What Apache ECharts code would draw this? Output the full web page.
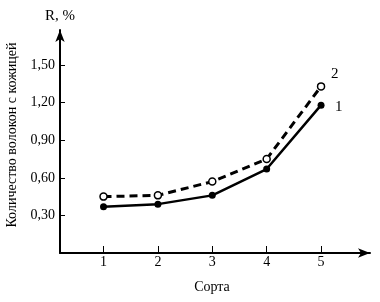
<!DOCTYPE html>
<html lang="ru">
<head>
    <meta charset="UTF-8">
    <script src="https://cdn.jsdelivr.net/npm/echarts@6/dist/echarts.min.js"></script>
    <style>
        body { margin: 0; background: #fff; }
        #chart { width: 380px; height: 302px; }
    </style>
</head>
<body>
<div id="chart"></div>
<script>
    // сорта и значения R, %
    var sorts = [1, 2, 3, 4, 5];
    var series1 = [0.37, 0.39, 0.46, 0.67, 1.18];   // кривая 1, сплошная
    var series2 = [0.45, 0.46, 0.57, 0.75, 1.33];   // кривая 2, пунктир
    var yTicks = [0.30, 0.60, 0.90, 1.20, 1.50];

    var font = 'Liberation Serif, Times New Roman, serif';

    function pairs(arr) {
        return sorts.map(function (s, i) { return [s, arr[i]]; });
    }

    var mCharts = echarts.init(document.getElementById('chart'));
    var option = {
        animation: false,
        grid: { left: 60, right: 10, top: 30, bottom: 49 },
        xAxis: {
            type: 'value',
            min: 0.2,
            max: 5.9,
            axisLine: { lineStyle: { color: '#000', width: 2 }, symbol: ['none', 'arrow'], symbolSize: [7, 12] },
            axisTick: { inside: true, length: 7, lineStyle: { color: '#000' }, customValues: sorts },
            axisLabel: { color: '#000', fontFamily: font, fontSize: 14, margin: 2, customValues: sorts },
            splitLine: { show: false }
        },
        yAxis: {
            type: 'value',
            min: 0,
            max: 1.78,
            name: 'R, %',
            nameLocation: 'end',
            nameGap: 6,
            nameTextStyle: { color: '#000', fontFamily: font, fontSize: 15 },
            axisLine: { lineStyle: { color: '#000', width: 2 }, symbol: ['none', 'arrow'], symbolSize: [7, 12] },
            axisTick: { inside: true, length: 5, lineStyle: { color: '#000' }, customValues: yTicks },
            axisLabel: {
                color: '#000', fontFamily: font, fontSize: 14, margin: 5, customValues: yTicks,
                formatter: function (v) { return v.toFixed(2).replace('.', ','); }
            },
            splitLine: { show: false }
        },
        series: [
            {
                name: '1',
                type: 'line',
                data: pairs(series1),
                symbol: 'circle',
                symbolSize: 7,
                itemStyle: { color: '#000' },
                lineStyle: { color: '#000', width: 2.5 },
                endLabel: { show: true, formatter: '1', color: '#000', fontFamily: font, fontSize: 15, offset: [6, 2] }
            },
            {
                name: '2',
                type: 'line',
                data: pairs(series2),
                symbol: 'circle',
                symbolSize: 7,
                itemStyle: { color: '#fff', borderColor: '#000', borderWidth: 1.5 },
                lineStyle: { color: '#000', width: 3, type: [8, 5] },
                endLabel: { show: true, formatter: '2', color: '#000', fontFamily: font, fontSize: 15, offset: [2, -12] }
            }
        ],
        graphic: [
            {
                type: 'text',
                x: 12, y: 135,
                rotation: Math.PI / 2,
                style: { text: 'Количество волокон с кожицей', fill: '#000', font: '14px ' + font, align: 'center', verticalAlign: 'middle' }
            },
            {
                type: 'text',
                x: 212, y: 287,
                style: { text: 'Сорта', fill: '#000', font: '14px ' + font, align: 'center', verticalAlign: 'middle' }
            }
        ]
    };
    mCharts.setOption(option);
</script>
</body>
</html>
